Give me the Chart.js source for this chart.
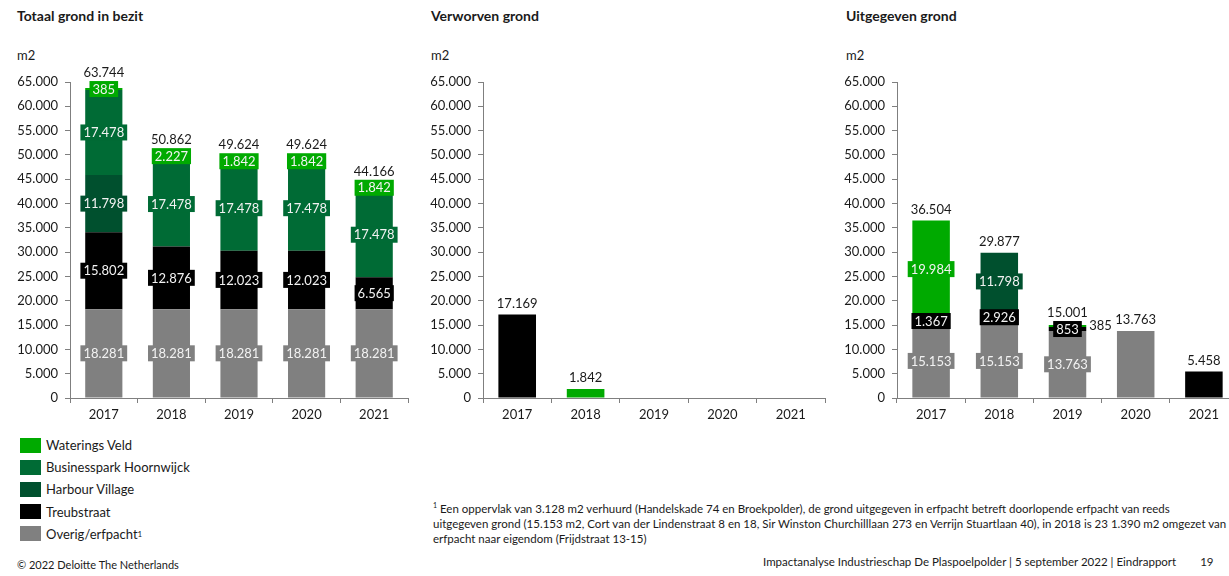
<!DOCTYPE html>
<html>
<head>
<meta charset="utf-8">
<script src="https://cdn.jsdelivr.net/npm/chart.js@4/dist/chart.umd.min.js"></script>
<style>
  html, body { margin: 0; padding: 0; background: #fff; }
  body { width: 1229px; height: 576px; overflow: hidden; position: relative; font-family: Lato, "Open Sans", sans-serif; color: #1a1a1a; }
  canvas { position: absolute; }
  .title { position: absolute; top: 7px; font-weight: bold; font-size: 14px; }
  .unit { position: absolute; top: 47px; font-size: 13px; }
  .legend { position: absolute; left: 20px; top: 434px; font-size: 13px; }
  .legend div { height: 22.2px; display: flex; align-items: center; }
  .legend span.sw { display: inline-block; width: 21px; height: 15px; margin-right: 5px; }
  .note { position: absolute; left: 433px; top: 498px; font-size: 11.5px; line-height: 15px; white-space: nowrap; }
  .copy { position: absolute; left: 17px; top: 558px; font-size: 11px; }
  .foot { position: absolute; left: 763px; top: 555px; font-size: 11.5px; white-space: nowrap; }
  .foot b { font-weight: normal; margin-left: 24px; }
</style>
</head>
<body>
<div class="title" style="left:17px">Totaal grond in bezit</div>
<div class="title" style="left:431px">Verworven grond</div>
<div class="title" style="left:846px">Uitgegeven grond</div>
<div class="unit" style="left:17px">m2</div>
<div class="unit" style="left:431px">m2</div>
<div class="unit" style="left:846px">m2</div>

<canvas id="bezit" width="415" height="360" style="left:0;top:60px"></canvas>
<canvas id="verworven" width="420" height="360" style="left:413px;top:60px"></canvas>
<canvas id="uitgegeven" width="420" height="360" style="left:827px;top:60px"></canvas>

<div class="legend" id="legend"></div>

<div class="note">
  <sup style="font-size:7px">1</sup> Een oppervlak van 3.128 m2 verhuurd (Handelskade 74 en Broekpolder), de grond uitgegeven in erfpacht betreft doorlopende erfpacht van reeds<br>
  uitgegeven grond (15.153 m2, Cort van der Lindenstraat 8 en 18, Sir Winston Churchilllaan 273 en Verrijn Stuartlaan 40), in 2018 is 23 1.390 m2 omgezet van<br>
  erfpacht naar eigendom (Frijdstraat 13-15)
</div>
<div class="copy">© 2022 Deloitte The Netherlands</div>
<div class="foot">Impactanalyse Industrieschap De Plaspoelpolder | 5 september 2022 | Eindrapport<b>19</b></div>

<script>
// categories and series
const years = ["2017", "2018", "2019", "2020", "2021"];
const seriesNames = ["Overig/erfpacht", "Treubstraat", "Harbour Village", "Businesspark Hoornwijck", "Waterings Veld"];
const seriesColors = ["#808080", "#000000", "#00502e", "#006b35", "#00aa00"];
const legendOrder = [4, 3, 2, 1, 0];

// Totaal grond in bezit
const bezitOverig = [18281, 18281, 18281, 18281, 18281];
const bezitTreub = [15802, 12876, 12023, 12023, 6565];
const bezitHarbour = [11798, 0, 0, 0, 0];
const bezitBusiness = [17478, 17478, 17478, 17478, 17478];
const bezitWaterings = [385, 2227, 1842, 1842, 1842];

// Verworven grond
const verworvenOverig = [0, 0, 0, 0, 0];
const verworvenTreub = [17169, 0, 0, 0, 0];
const verworvenHarbour = [0, 0, 0, 0, 0];
const verworvenBusiness = [0, 0, 0, 0, 0];
const verworvenWaterings = [0, 1842, 0, 0, 0];

// Uitgegeven grond
const uitgOverig = [15153, 15153, 13763, 13763, 0];
const uitgTreub = [1367, 2926, 853, 0, 5458];
const uitgHarbour = [0, 11798, 0, 0, 0];
const uitgBusiness = [0, 0, 0, 0, 0];
const uitgWaterings = [19984, 0, 385, 0, 0];

// y axis ticks
const yMin = 0, yMax = 65000, yStep = 5000;

function fmt(v) {
  return String(Math.round(v)).replace(/\B(?=(\d{3})+(?!\d))/g, ".");
}

// legend
const legendEl = document.getElementById("legend");
legendOrder.forEach(i => {
  const row = document.createElement("div");
  const sup = i === 0 ? '<sup style="font-size:8px">1</sup>' : "";
  row.innerHTML = '<span class="sw" style="background:' + seriesColors[i] + '"></span>' + seriesNames[i] + sup;
  legendEl.appendChild(row);
});

// value boxes inside the segments plus the totals on top
const segLabels = {
  id: "segLabels",
  afterDatasetsDraw(chart) {
    const ctx = chart.ctx;
    ctx.save();
    ctx.font = "13px Lato";
    ctx.textBaseline = "middle";
    years.forEach((yr, i) => {
      const segs = chart.data.datasets
        .map((ds, d) => ({ ds, d, v: ds.data[i] }))
        .filter(s => s.v > 0);
      const total = segs.reduce((a, s) => a + s.v, 0);
      let prevBox = null;
      if (segs.length > 1) {
        segs.forEach(s => {
          const bar = chart.getDatasetMeta(s.d).data[i];
          const cy = (bar.y + bar.base) / 2;
          const txt = fmt(s.v);
          const w = ctx.measureText(txt).width + 6, h = 16;
          const box = { top: cy - h / 2, bottom: cy + h / 2 };
          if (prevBox && box.bottom > prevBox.top) {
            // no room left, put it next to the bar
            ctx.fillStyle = "#1a1a1a";
            ctx.textAlign = "left";
            ctx.fillText(txt, bar.x + bar.width / 2 + 3, cy);
            return;
          }
          ctx.fillStyle = s.ds.backgroundColor;
          ctx.fillRect(bar.x - w / 2, box.top, w, h);
          ctx.fillStyle = "#f2f2f2";
          ctx.textAlign = "center";
          ctx.fillText(txt, bar.x, cy + 0.5);
          prevBox = box;
        });
      }
      if (total > 0) {
        const x = chart.getDatasetMeta(0).data[i].x;
        let ty = chart.scales.y.getPixelForValue(total) - 11;
        if (prevBox) ty = Math.min(ty, prevBox.top - 8);
        ctx.fillStyle = "#1a1a1a";
        ctx.textAlign = "center";
        ctx.fillText(fmt(total), x, ty);
      }
    });
    ctx.restore();
  }
};

function makeChart(id, series, rightPad) {
  const datasets = series.map((data, k) => ({
    label: seriesNames[k],
    data: data,
    backgroundColor: seriesColors[k],
    borderWidth: 0,
    categoryPercentage: 1,
    barPercentage: 0.55
  }));
  return new Chart(document.getElementById(id), {
    type: "bar",
    data: { labels: years, datasets: datasets },
    plugins: [segLabels],
    options: {
      responsive: false,
      animation: false,
      events: [],
      layout: { padding: { top: 22, right: rightPad, bottom: 0, left: 0 } },
      plugins: { legend: { display: false }, tooltip: { enabled: false } },
      scales: {
        x: {
          stacked: true,
          grid: { display: true, drawOnChartArea: false, offset: true, tickLength: 5, color: "#7f7f7f" },
          border: { color: "#7f7f7f" },
          ticks: { color: "#1a1a1a", font: { family: "Lato", size: 13 }, padding: 4 },
          afterFit: s => { s.height = 22; }
        },
        y: {
          stacked: true,
          min: yMin,
          max: yMax,
          grid: { display: true, drawOnChartArea: false, tickLength: 5, color: "#7f7f7f" },
          border: { color: "#7f7f7f" },
          ticks: { stepSize: yStep, color: "#1a1a1a", font: { family: "Lato", size: 13 }, padding: 7, callback: v => fmt(v) },
          afterFit: s => { s.width = 70; }
        }
      }
    }
  });
}

makeChart("bezit", [bezitOverig, bezitTreub, bezitHarbour, bezitBusiness, bezitWaterings], 7);
makeChart("verworven", [verworvenOverig, verworvenTreub, verworvenHarbour, verworvenBusiness, verworvenWaterings], 8);
makeChart("uitgegeven", [uitgOverig, uitgTreub, uitgHarbour, uitgBusiness, uitgWaterings], 9);
</script>
</body>
</html>
